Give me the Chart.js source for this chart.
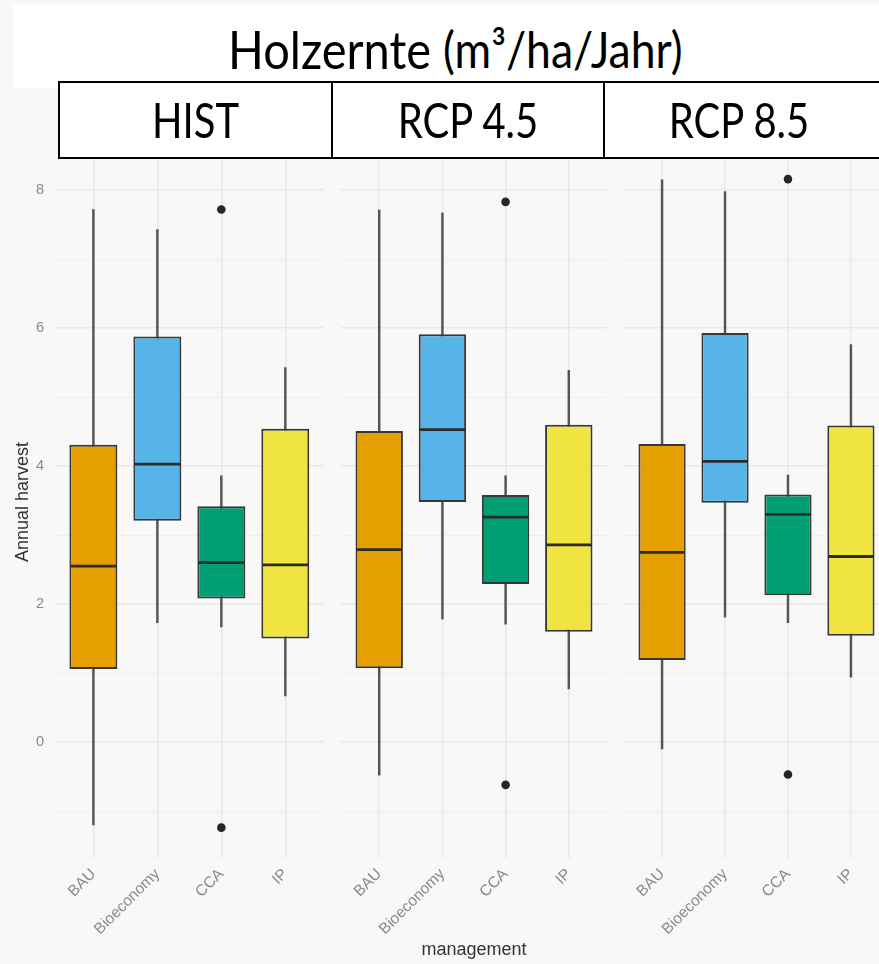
<!DOCTYPE html>
<html>
<head>
<meta charset="utf-8">
<script src="https://cdn.jsdelivr.net/npm/chart.js@4.4.1/dist/chart.umd.min.js"></script>
<style>
  html, body { margin:0; padding:0; }
  body { width:879px; height:964px; overflow:hidden; position:relative; background:#f8f8f8; font-family:'Liberation Sans', Arial, sans-serif; }
  #titlebox { position:absolute; left:13px; top:4px; width:880px; height:84px; background:#fff; }
  .tt { position:absolute; top:23px; font-family:Lato, 'Open Sans', sans-serif; color:#000; white-space:nowrap; transform:scaleY(1.12); transform-origin:0 0; line-height:1; }
  #t1 { left:228px; font-size:47px; }
  #t2 { left:443px; font-size:44.5px; top:24px; }
  .hdr { position:absolute; top:81px; height:74px; background:#fff; border:2px solid #000; box-sizing:content-box; }
  .hdr span { position:absolute; top:0; height:74px; line-height:74px; text-align:center; font-family:Lato, 'Open Sans', sans-serif; font-size:40px; color:#000; display:block; transform:scaleY(1.2); }
  canvas { position:absolute; top:0; }
</style>
</head>
<body>
<div id="titlebox"></div>
<div class="tt" id="t1">Holzernte</div>
<div class="tt" id="t2">(m³/ha/Jahr)</div>

<canvas id="c0" width="328" height="964" style="left:0px"></canvas>
<canvas id="c1" width="274" height="964" style="left:337px"></canvas>
<canvas id="c2" width="273" height="964" style="left:620px"></canvas>

<div class="hdr" style="left:58px; width:271px;"><span style="left:0; width:271px;">HIST</span></div>
<div class="hdr" style="left:331px; width:270px;"><span style="left:0; width:270px;">RCP 4.5</span></div>
<div class="hdr" style="left:603px; width:290px;"><span style="left:0; width:268px;">RCP 8.5</span></div>

<script>
// ---------- DATA ----------
const categories = ['BAU', 'Bioeconomy', 'CCA', 'IP'];
const scenarios = ['HIST', 'RCP 4.5', 'RCP 8.5'];
const yTickLabels = [0, 2, 4, 6, 8];
const yGridValues = [-1, 0, 1, 2, 3, 4, 5, 6, 7, 8];
const fills = ['#E69F00', '#56B4E9', '#009E73', '#F0E442'];

// HIST
const histLow    = [-1.20, 1.73, 1.67, 0.67];
const histQ1     = [ 1.06, 3.21, 2.08, 1.50];
const histMedian = [ 2.55, 4.03, 2.60, 2.57];
const histQ3     = [ 4.31, 5.88, 3.42, 4.54];
const histHigh   = [ 7.72, 7.43, 3.86, 5.43];
const histOutliers = [[], [], [7.72, -1.24], []];

// RCP 4.5
const rcp45Low    = [-0.48, 1.78, 1.71, 0.77];
const rcp45Q1     = [ 1.07, 3.48, 2.29, 1.60];
const rcp45Median = [ 2.79, 4.53, 3.26, 2.86];
const rcp45Q3     = [ 4.51, 5.91, 3.58, 4.60];
const rcp45High   = [ 7.71, 7.67, 3.86, 5.39];
const rcp45Outliers = [[], [], [7.83, -0.62], []];

// RCP 8.5
const rcp85Low    = [-0.10, 1.81, 1.73, 0.94];
const rcp85Q1     = [ 1.19, 3.47, 2.13, 1.54];
const rcp85Median = [ 2.75, 4.07, 3.30, 2.69];
const rcp85Q3     = [ 4.32, 5.93, 3.59, 4.59];
const rcp85High   = [ 8.15, 7.98, 3.87, 5.76];
const rcp85Outliers = [[], [], [8.16, -0.47], []];

// ---------- CHARTS ----------
const panels = [
  {low: histLow, q1: histQ1, med: histMedian, q3: histQ3, high: histHigh, out: histOutliers},
  {low: rcp45Low, q1: rcp45Q1, med: rcp45Median, q3: rcp45Q3, high: rcp45High, out: rcp45Outliers},
  {low: rcp85Low, q1: rcp85Q1, med: rcp85Median, q3: rcp85Q3, high: rcp85High, out: rcp85Outliers}
];

Chart.defaults.font.family = "'Liberation Sans', Arial, sans-serif";
const BOX_FRAC = 0.75;
const tickColor = '#8a8a8a';
const titleColor = '#333333';
const gridMajor = '#e8e8e8';
const gridMinor = '#eeeeee';

function buildChart(idx) {
  const p = panels[idx];
  const xs = categories.map((c, i) => i + 1);
  const outPts = [];
  p.out.forEach((arr, i) => arr.forEach(v => outPts.push({x: i + 1, y: v})));

  const datasets = [
    { // outliers (top)
      type: 'line', showLine: false, order: 1,
      data: outPts,
      pointRadius: 4.3, pointBackgroundColor: '#262626', pointBorderWidth: 0, pointHoverRadius: 4.3
    },
    { // medians
      type: 'line', showLine: false, order: 2,
      data: xs.map((x, i) => ({x: x, y: p.med[i]})),
      pointStyle: 'line',
      pointRadius: (ctx) => {
        const s = ctx.chart.scales.x;
        return Math.abs(s.getPixelForValue(1 + BOX_FRAC / 2) - s.getPixelForValue(1)) - 1;
      },
      pointBorderColor: '#2b2b2b', pointBorderWidth: 2.8, pointHoverRadius: 0
    },
    { // boxes
      type: 'bar', order: 3, grouped: false,
      data: xs.map((x, i) => ({x: x, y: [p.q1[i], p.q3[i]]})),
      backgroundColor: fills, borderColor: '#383838', borderWidth: 2, borderSkipped: false,
      categoryPercentage: 1, barPercentage: BOX_FRAC
    },
    { // whiskers
      type: 'bar', order: 4, grouped: false,
      data: xs.map((x, i) => ({x: x, y: [p.low[i], p.high[i]]})),
      backgroundColor: '#555555', borderWidth: 0,
      barThickness: 1.8
    }
  ];

  const yOpts = {
    type: 'linear', min: -1.68, max: 8.64,
    afterBuildTicks: (s) => { s.ticks = yGridValues.map(v => ({value: v})); },
    border: {display: false},
    grid: {
      drawTicks: false,
      color: (ctx) => yTickLabels.includes(ctx.tick.value) ? gridMajor : gridMinor,
      lineWidth: (ctx) => yTickLabels.includes(ctx.tick.value) ? 1.5 : 1.1
    },
    ticks: {
      display: idx === 0,
      padding: 11, color: tickColor, font: {size: 14.5},
      callback: (v) => yTickLabels.includes(v) ? String(v) : ''
    },
    title: {
      display: idx === 0, text: 'Annual harvest', color: titleColor,
      font: {size: 18}, padding: {top: 12, bottom: 0}
    },
    afterFit: (s) => { s.width = idx === 0 ? 55 : 0; }
  };

  const xOpts = {
    type: 'linear', min: 0.4, max: 4.6, offset: false,
    afterBuildTicks: (s) => { s.ticks = xs.map(v => ({value: v})); },
    border: {display: false},
    grid: { drawTicks: false, offset: false, color: gridMajor, lineWidth: 1.5 },
    ticks: {
      autoSkip: false, minRotation: 45, maxRotation: 45, padding: 7,
      color: tickColor, font: {size: 15.5},
      callback: (v) => categories[v - 1]
    },
    title: {
      display: idx === 1, text: 'management', color: titleColor,
      font: {size: 18}, padding: {top: 0, bottom: 3}
    },
    afterFit: (s) => { s.height = 106; }
  };

  new Chart(document.getElementById('c' + idx), {
    type: 'bar',
    data: { datasets: datasets },
    options: {
      responsive: false, animation: false,
      layout: { padding: {top: 146, left: 0, right: 0, bottom: 0} },
      plugins: { legend: {display: false}, tooltip: {enabled: false}, title: {display: false} },
      scales: { x: xOpts, y: yOpts }
    }
  });
}

[0, 1, 2].forEach(buildChart);
</script>
</body>
</html>
